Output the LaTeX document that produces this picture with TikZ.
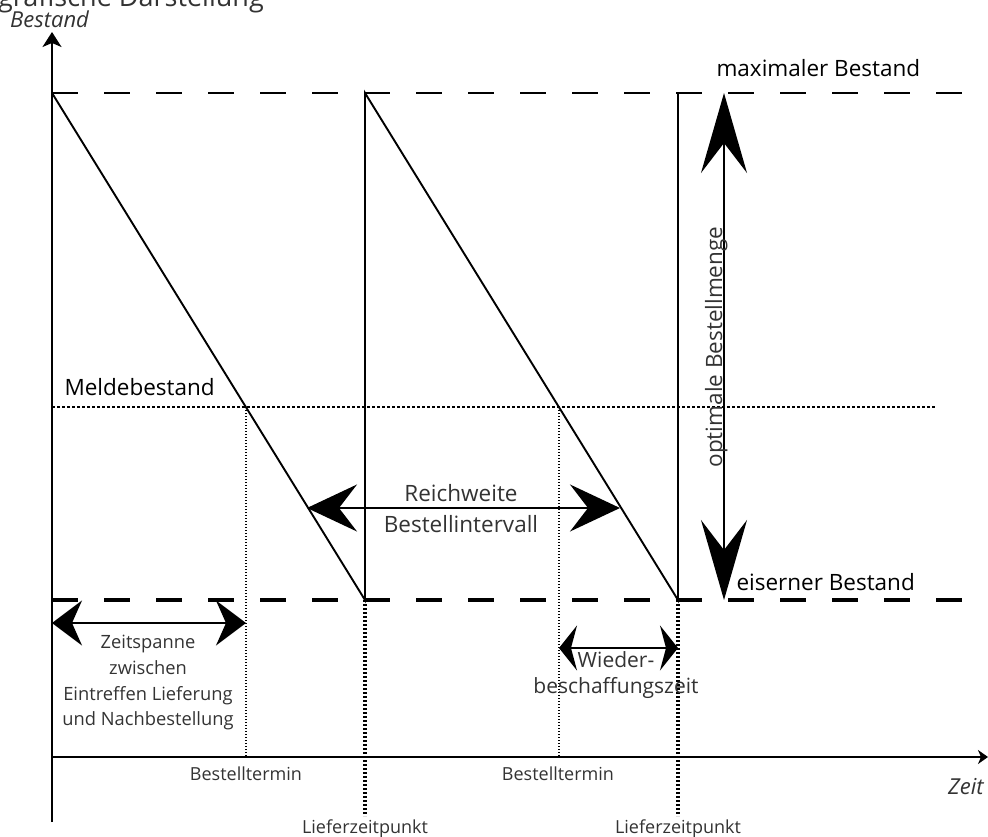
\documentclass[tikz,border=0pt]{standalone}
\usepackage{fontspec}
\setmainfont{Open Sans}
\usetikzlibrary{arrows.meta}
\begin{document}
\begin{tikzpicture}[x=1pt,y=-1pt,
  ln/.style={line width=1.9pt},
  axisline/.style={line width=2pt},
  maxline/.style={line width=2.2pt,dash pattern=on 26pt off 26pt},
  minline/.style={line width=4.5pt,dash pattern=on 26pt off 26pt},
  meldeline/.style={line width=1.4pt,dash pattern=on 3pt off 2pt},
  bestline/.style={line width=1.3pt,dash pattern=on 1.2pt off 1.8pt},
  liefline/.style={line width=4pt,dash pattern=on 2pt off 2pt},
  lbl/.style={font=\fontsize{18.3}{20}\selectfont,text=black!80,anchor=base},
  wlbl/.style={font=\fontsize{21}{22}\selectfont,text=black!80,anchor=base},
  mlbl/.style={font=\fontsize{22.5}{24}\selectfont,text=black!80,anchor=base},
  blbl/.style={font=\fontsize{22.5}{24}\selectfont,anchor=base west},
  slbl/.style={font=\fontsize{18}{20}\selectfont,text=black!80,anchor=base},
  axlbl/.style={font=\fontsize{22}{24}\selectfont\itshape,text=black!80,anchor=base west,inner sep=0},
]
\useasboundingbox (0,0) rectangle (988,837);

% title and axis labels
\node[anchor=base west,font=\fontsize{27}{30}\selectfont,text=black!80,inner sep=0] (title) at (-2,7) {grafische Darstellung};
\node[axlbl] (ylab) at (10,28) {Bestand};
\node[axlbl] (xlab) at (948,794) {Zeit};

% coordinates
\coordinate (O) at (52,757);
\coordinate (ytop) at (52,32);
\coordinate (ybot) at (52,822);
\coordinate (xend) at (988,757);
\coordinate (A0) at (52,93);
\coordinate (B1) at (365,600);
\coordinate (A1) at (365,93);
\coordinate (B2) at (678,600);
\coordinate (A2) at (678,93);
\coordinate (M1) at (962,93);
\coordinate (E0) at (52,600);
\coordinate (E1) at (962,600);
\coordinate (R0) at (52,407);
\coordinate (R1) at (935,407);
\coordinate (S1) at (246,407);
\coordinate (S1b) at (246,757);
\coordinate (S2) at (559,407);
\coordinate (S2b) at (559,757);
\coordinate (L1) at (365,816);
\coordinate (L2) at (678,816);
\coordinate (V0) at (724,93);
\coordinate (V1) at (724,600);
\coordinate (W0) at (307,508);
\coordinate (W1) at (620,508);
\coordinate (Z0) at (52,623);
\coordinate (Z1) at (246,623);
\coordinate (Q0) at (559,648);
\coordinate (Q1) at (678,648);

% reference lines
\draw[maxline] (A0) -- (M1);
\draw[minline] (E0) -- (E1);
\draw[meldeline] (R0) -- (R1);
\draw[bestline] (S1) -- (S1b);
\draw[bestline] (S2) -- (S2b);
\draw[liefline] (B1) -- (L1);
\draw[liefline] (B2) -- (L2);

% axes
\draw[axisline,-{Stealth[length=15pt,width=19pt,inset=4pt]}] (ybot) -- (ytop);
\draw[axisline,-{Stealth[length=10pt,width=14pt,inset=3pt]}] (O) -- (xend);

% sawtooth
\draw[ln,line join=miter] (A0) -- (B1) -- (A1) -- (B2) -- (A2);

% arrows
\draw[ln,{Stealth[length=80pt,width=46pt,inset=30pt]}-{Stealth[length=80pt,width=46pt,inset=30pt]}] (V0) -- (V1);
\draw[ln,{Stealth[length=50pt,width=47pt,inset=18pt]}-{Stealth[length=50pt,width=47pt,inset=18pt]}] (W0) -- (W1);
\draw[ln,{Stealth[length=30pt,width=45pt,inset=10pt]}-{Stealth[length=30pt,width=45pt,inset=10pt]}] (Z0) -- (Z1);
\draw[ln,{Stealth[length=18pt,width=45pt,inset=6pt]}-{Stealth[length=18pt,width=45pt,inset=6pt]}] (Q0) -- (Q1);

% labels
\node[blbl] (maxl) at (713,77) {maximaler Bestand};
\node[blbl] (minl) at (733,590) {eiserner Bestand};
\node[blbl] (mel) at (61,395) {Meldebestand};
\node[mlbl,rotate=90,anchor=base] (opt) at (722,347) {optimale Bestellmenge};
\node[mlbl] (rw1) at (461,501) {Reichweite};
\node[mlbl] (rw2) at (461,532) {Bestellintervall};
\node[lbl] (zs1) at (148,648) {Zeitspanne};
\node[lbl] (zs2) at (148,674) {zwischen};
\node[lbl] (zs3) at (148,700) {Eintreffen Lieferung};
\node[lbl] (zs4) at (148,725) {und Nachbestellung};
\node[wlbl] (wb1) at (616,667) {Wieder-};
\node[wlbl] (wb2) at (616,693) {beschaffungszeit};
\node[slbl] (bt1) at (246,780) {Bestelltermin};
\node[slbl] (bt2) at (558,780) {Bestelltermin};
\node[slbl] (lz1) at (365,833) {Lieferzeitpunkt};
\node[slbl] (lz2) at (678,833) {Lieferzeitpunkt};
\end{tikzpicture}
\end{document}
